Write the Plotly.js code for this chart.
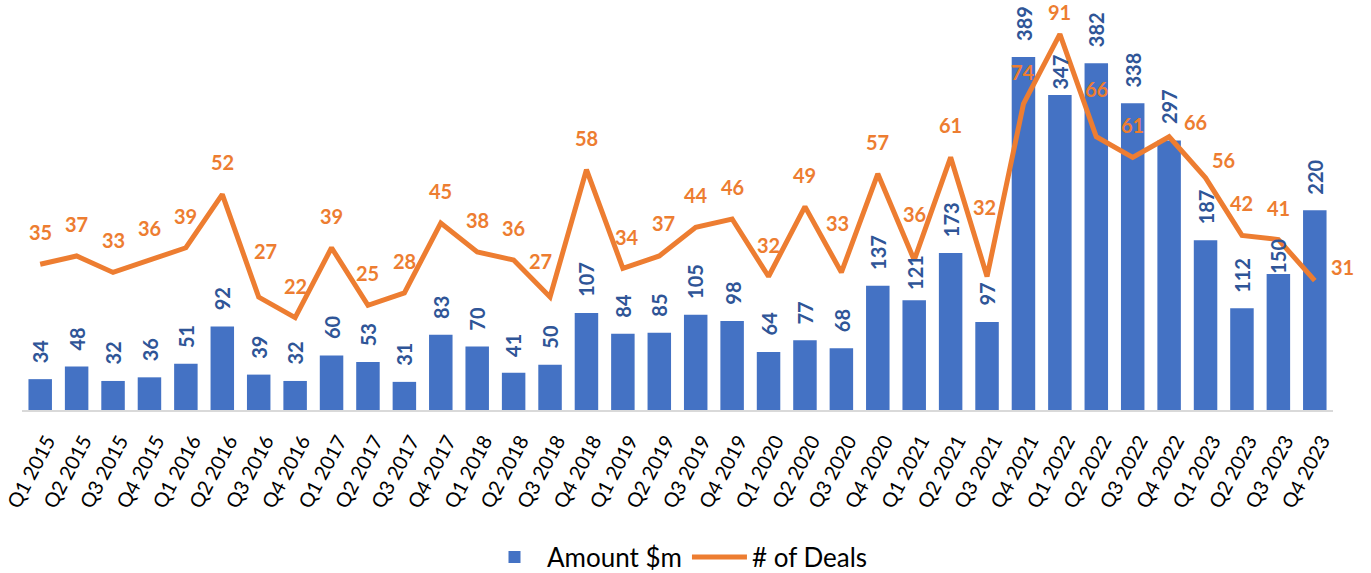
<!DOCTYPE html>
<html>
<head>
<meta charset="utf-8">
<script src="https://cdn.plot.ly/plotly-3.0.1.min.js"></script>
<style>html,body{margin:0;padding:0;background:#fff;}#chart{width:1371px;height:573px;}</style>
</head>
<body>
<div id="chart"></div>
<script>
const quarters = ["Q1 2015","Q2 2015","Q3 2015","Q4 2015","Q1 2016","Q2 2016","Q3 2016","Q4 2016",
  "Q1 2017","Q2 2017","Q3 2017","Q4 2017","Q1 2018","Q2 2018","Q3 2018","Q4 2018",
  "Q1 2019","Q2 2019","Q3 2019","Q4 2019","Q1 2020","Q2 2020","Q3 2020","Q4 2020",
  "Q1 2021","Q2 2021","Q3 2021","Q4 2021","Q1 2022","Q2 2022","Q3 2022","Q4 2022",
  "Q1 2023","Q2 2023","Q3 2023","Q4 2023"];
const amounts = [34,48,32,36,51,92,39,32,60,53,31,83,70,41,50,107,84,85,105,98,64,77,68,137,
  121,173,97,389,347,382,338,297,187,112,150,220];
const deals = [35,37,33,36,39,52,27,22,39,25,28,45,38,36,27,58,34,37,44,46,32,49,33,57,
  36,61,32,74,91,66,61,66,56,42,41,31];
const seriesNames = ["Amount $m", "# of Deals"];

// label placement styling (pixel offsets)
const FONT = "Lato, 'Open Sans', sans-serif";
const barGapDefault = 17;
const barGapOverride = {24: 11, 28: 7, 34: 1};
const dealGapDefault = 24;
const dealOverride = {6:[7,38],14:[-10,28],16:[4,23],17:[4,25],22:[-4,41],24:[0,38],26:[-3,62],
  28:[0,14],29:[0,40],31:[26,7],32:[18,10],35:[28,6]};

const annotations = [];
quarters.forEach((q, i) => {
  const g = (barGapOverride[i] !== undefined) ? barGapOverride[i] : barGapDefault;
  annotations.push({
    x: q, y: amounts[i], xref: 'x', yref: 'y', text: String(amounts[i]),
    showarrow: false, textangle: -90, yanchor: 'bottom', xanchor: 'center',
    yshift: g - 2, borderpad: 0,
    font: {family: FONT, size: 20, color: '#2F5597', weight: 700}
  });
  const o = dealOverride[i] || [0, dealGapDefault];
  annotations.push({
    x: q, y: deals[i], xref: 'x', yref: 'y2', text: String(deals[i]),
    showarrow: false, yanchor: 'bottom', xanchor: 'center',
    xshift: o[0], yshift: o[1] - 5, borderpad: 0,
    font: {family: FONT, size: 20, color: '#ED7D31', weight: 700}
  });
});

const traces = [
  {type: 'bar', name: seriesNames[0], x: quarters, y: amounts,
   marker: {color: '#4472C4'}, hoverinfo: 'x+y'},
  {type: 'scatter', mode: 'lines', name: seriesNames[1], x: quarters, y: deals, yaxis: 'y2',
   line: {color: '#ED7D31', width: 5}, hoverinfo: 'x+y'}
];

const layout = {
  width: 1371, height: 573,
  margin: {l: 22, r: 38, t: 10, b: 163, autoexpand: false},
  paper_bgcolor: '#fff', plot_bgcolor: '#fff',
  bargap: 0.355,
  showlegend: true,
  legend: {orientation: 'h', x: 0.5, xanchor: 'center', y: -0.3675, yanchor: 'middle',
    font: {family: FONT, size: 26, color: '#000'}, itemwidth: 55, traceorder: 'normal'},
  xaxis: {type: 'category', range: [-0.5, quarters.length - 0.5], autorange: false,
    showgrid: false, zeroline: false, showline: true, automargin: false,
    linecolor: '#D9D9D9', linewidth: 1.5, ticks: '', tickangle: -62,
    ticklabelstandoff: 10, ticklabelshift: 7,
    tickfont: {family: FONT, size: 20, color: '#000'}},
  yaxis: {range: [0, 440.8], autorange: false, visible: false, showgrid: false, zeroline: false, automargin: false},
  yaxis2: {range: [-0.48, 96.85], autorange: false, overlaying: 'y', side: 'right', visible: false,
    showgrid: false, zeroline: false, automargin: false},
  annotations: annotations
};

Plotly.newPlot('chart', traces, layout, {displayModeBar: false, staticPlot: true});
</script>
</body>
</html>
